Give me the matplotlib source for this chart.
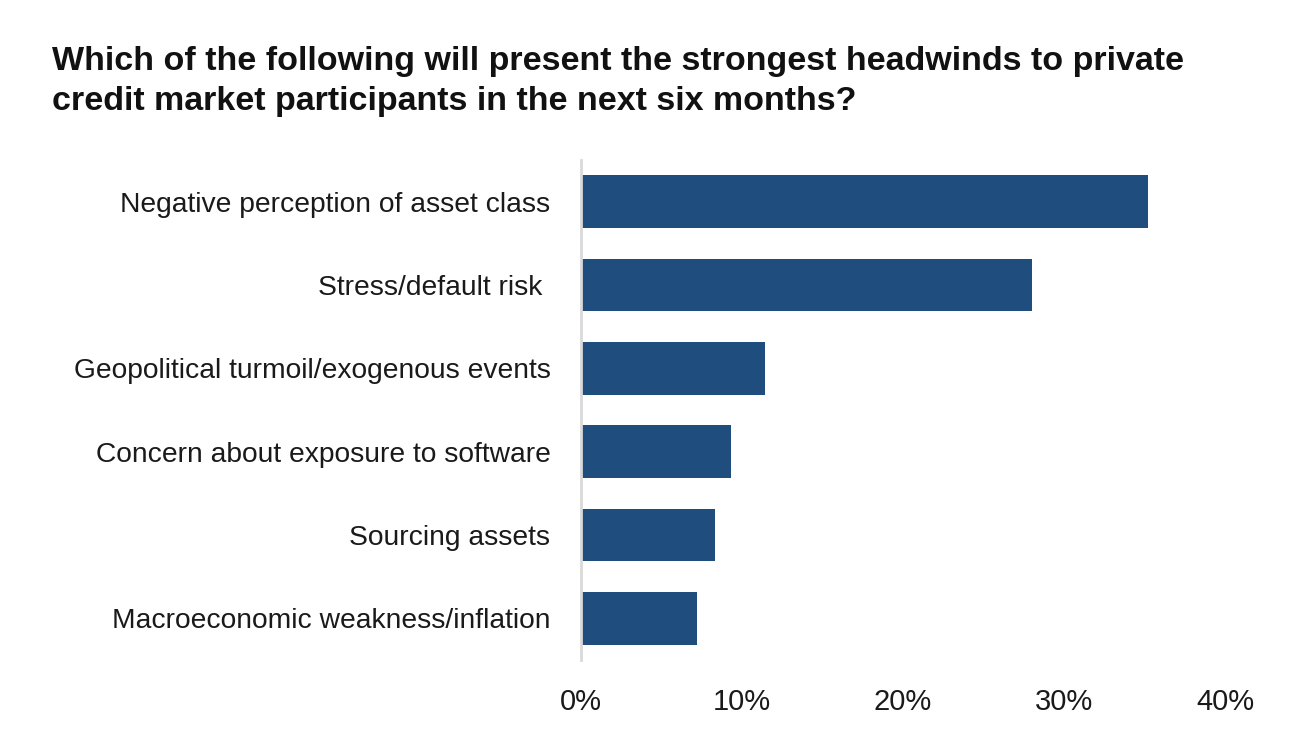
import matplotlib
matplotlib.use("Agg")
import matplotlib.pyplot as plt
from matplotlib.ticker import FuncFormatter

# Data
categories = [
    "Negative perception of asset class",
    "Stress/default risk ",
    "Geopolitical turmoil/exogenous events",
    "Concern about exposure to software",
    "Sourcing assets",
    "Macroeconomic weakness/inflation",
]
values = [35.2, 28.0, 11.4, 9.3, 8.3, 7.2]
xticks = [0, 10, 20, 30, 40]

TITLE = ("Which of the following will present the strongest headwinds to private\n"
         "credit market participants in the next six months?")
BAR_COLOR = "#1f4e7e"

plt.rcParams["font.family"] = ["Liberation Sans", "DejaVu Sans"]

fig = plt.figure(figsize=(13.16, 7.32), dpi=100)
ax = fig.add_axes([581 / 1316, 1 - 660 / 732, (1225 - 581) / 1316, 500 / 732])

ypos = list(range(len(categories)))
ax.barh(ypos, values, height=0.63, color=BAR_COLOR)
ax.set_ylim(len(categories) - 0.5, -0.5)
ax.set_xlim(0, 40)
ax.set_yticks(ypos)
ax.set_yticklabels(categories, fontsize=20.3, color="#1a1a1a")
ax.set_xticks(xticks)
ax.xaxis.set_major_formatter(FuncFormatter(lambda v, p: f"{v:.0f}%"))
ax.tick_params(axis="x", length=0, labelsize=21, pad=20, colors="#1a1a1a")
ax.tick_params(axis="y", length=0, pad=22)

for s in ["top", "right", "bottom"]:
    ax.spines[s].set_visible(False)
ax.spines["left"].set_color("#d9d9d9")
ax.spines["left"].set_linewidth(2)

fig.text(52 / 1316, 1 - 46 / 732, TITLE, fontsize=24.5, fontweight="bold",
         ha="left", va="top", linespacing=1.38, color="#111111")

fig.savefig("out.png", dpi=100, facecolor="white")
